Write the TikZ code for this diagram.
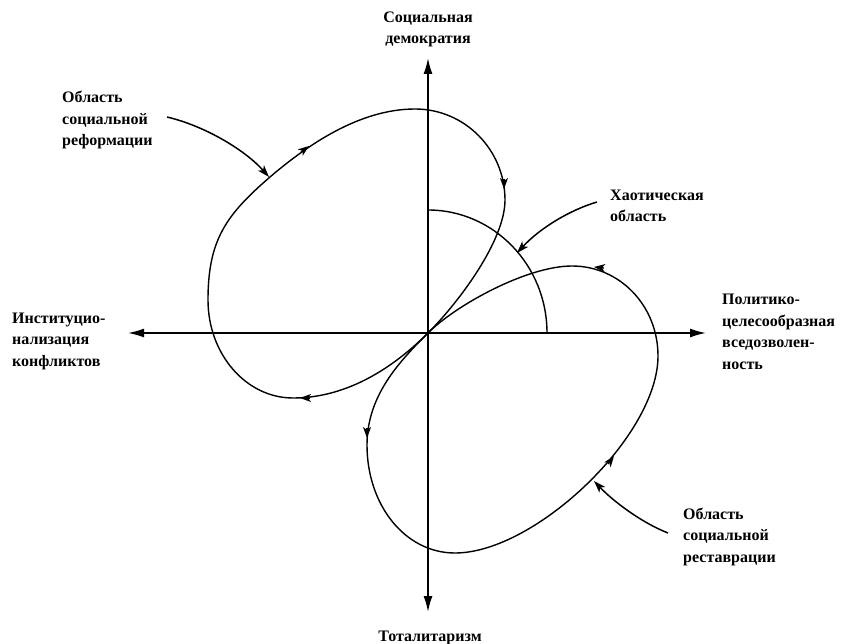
\documentclass[tikz,border=0pt]{standalone}
\usepackage{fontspec}
\setmainfont{Liberation Serif}
\usetikzlibrary{arrows.meta,calc}
\begin{document}
\begin{tikzpicture}[x=1pt,y=-1pt,
  lbl/.style={font=\bfseries\fontsize{16}{21.5}\selectfont, align=left, inner sep=0pt, anchor=base west},
  axisline/.style={line width=1.6pt, -{Latex[length=16pt,width=9pt]}},
  loopline/.style={line width=1.4pt},
  pointer/.style={line width=1.5pt, -{Stealth[length=12pt,width=8pt,inset=3pt]}},
  tipmark/.style={line width=1.3pt, -{Stealth[length=11pt,width=8pt,inset=3pt]}}]
\useasboundingbox (0,0) rectangle (843,644);
\fill[white] (0,0) rectangle (843,644);

% axes
\coordinate (O) at (428,333);
\coordinate (top) at (428,58);
\coordinate (bot) at (428,612);
\coordinate (lft) at (128,333);
\coordinate (rgt) at (706,333);
\draw[axisline] (O) -- (top);
\draw[axisline] (O) -- (bot);
\draw[axisline] (O) -- (lft);
\draw[axisline] (O) -- (rgt);

% quarter arc (chaotic region)
\coordinate (qa) at (428,210);
\draw[loopline] (qa) arc[start angle=90, end angle=0, x radius=119pt, y radius=123pt];

% upper-left lobe (social reform)
\draw[loopline] (O)
  .. controls (389,372) and (343,398) .. (293,398)
  .. controls (246,398) and (208,354) .. (208,300)
  .. controls (208,240) and (226,215) .. (270,177)
  .. controls (308,144.5) and (360,109) .. (415,109)
  .. controls (465,109) and (505,150) .. (505,200)
  .. controls (505,240) and (460,301) .. (O);

% lower-right lobe (social restoration)
\draw[loopline] (O)
  .. controls (400,361) and (367,395) .. (367,445)
  .. controls (367,505) and (405,553) .. (455,553)
  .. controls (535,553) and (658,436) .. (658,356)
  .. controls (658,306) and (620,266) .. (572,266)
  .. controls (527,266) and (456,305) .. (O);

% arrowheads on the lobes
\draw[tipmark] (301,152) -- (309,146);
\draw[tipmark] (504,179) -- (504,189);
\draw[tipmark] (310,398) -- (300,398);
\draw[tipmark] (367,428) -- (367,438);
\draw[tipmark] (608,464) -- (614,456);
\draw[tipmark] (604,268) -- (594,267);

% labels
\node[lbl, anchor=base, align=center] (sd) at (428,44) {Социальная\\демократия};
\node[lbl, anchor=base, align=center] (tot) at (430,641) {Тоталитаризм};
\node[lbl] (ref) at (62,146) {Область\\социальной\\реформации};
\node[lbl] (chaos) at (610,222) {Хаотическая\\область};
\node[lbl] (inst) at (12,366) {Институцио-\\нализация\\конфликтов};
\node[lbl] (pol) at (722,369) {Политико-\\целесообразная\\вседозволен-\\ность};
\node[lbl] (res) at (683,562) {Область\\социальной\\реставрации};

% pointer arrows
\coordinate (p1s) at (167,117);
\coordinate (p1e) at (269,177);
\coordinate (p2s) at (597,202);
\coordinate (p2e) at (517,253);
\coordinate (p3s) at (668,533);
\coordinate (p3e) at (594,481);
\draw[pointer] (p1s) .. controls (205,126) and (245,150) .. (p1e);
\draw[pointer] (p2s) .. controls (570,210) and (540,228) .. (p2e);
\draw[pointer] (p3s) .. controls (640,522) and (612,500) .. (p3e);
\end{tikzpicture}
\end{document}
